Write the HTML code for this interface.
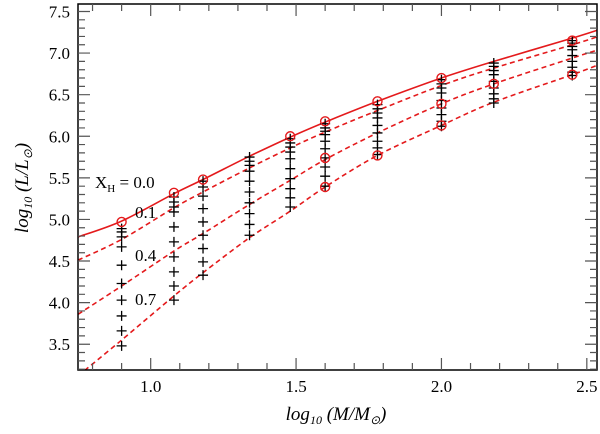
<!DOCTYPE html>
<html><head><meta charset="utf-8">
<style>
html,body{margin:0;padding:0;background:#fff;}
svg{display:block;font-family:"Liberation Serif",serif;}
</style></head>
<body>
<svg id="chart" width="600" height="434" viewBox="0 0 600 434"></svg>
<script>
const masses=[0.9,1.08,1.18,1.34,1.48,1.6,1.78,2.0,2.18,2.45];
const curveX=[0.75,0.9,1.08,1.18,1.34,1.48,1.6,1.78,2.0,2.18,2.45,2.54];
const curveX00=[4.79,4.98,5.31,5.48,5.76,5.99,6.17,6.42,6.70,6.90,7.18,7.28];
const curveX01=[4.51,4.76,5.14,5.33,5.62,5.86,6.05,6.31,6.61,6.82,7.10,7.20];
const curveX04=[3.86,4.20,4.62,4.83,5.18,5.47,5.72,6.04,6.39,6.63,6.94,7.04];
const curveX07=[3.12,3.55,4.08,4.36,4.78,5.10,5.39,5.77,6.13,6.41,6.74,6.86];
const circlesX00=[4.97,5.32,5.48,6.00,6.18,6.42,6.70,7.15];
const circlesX00M=[0.9,1.08,1.18,1.48,1.6,1.78,2.0,2.45];
const circlesX04=[5.74,6.39,6.63];
const circlesX04M=[1.6,2.0,2.18];
const circlesX07=[5.39,5.77,6.13,6.74];
const circlesX07M=[1.6,1.78,2.0,2.45];
const crosses=[
[4.89,4.85,4.79,4.67,4.45,4.23,4.03,3.84,3.66,3.48],
[5.27,5.21,5.15,5.09,4.91,4.73,4.55,4.37,4.20,4.03],
[5.46,5.39,5.28,5.13,4.97,4.81,4.65,4.49,4.33],
[5.75,5.70,5.65,5.58,5.46,5.33,5.20,5.07,4.94,4.81],
[5.97,5.92,5.87,5.81,5.73,5.61,5.49,5.37,5.26,5.15],
[6.15,6.10,6.06,6.02,5.94,5.85,5.74,5.63,5.52,5.40],
[6.38,6.33,6.28,6.22,6.13,6.04,5.94,5.86,5.78],
[6.68,6.63,6.58,6.52,6.43,6.34,6.26,6.18,6.12],
[6.88,6.84,6.79,6.74,6.66,6.58,6.51,6.45,6.40],
[7.15,7.12,7.08,7.04,6.97,6.90,6.83,6.77,6.73]
];
const xTicks=[1.0,1.5,2.0,2.5];
const yTicks=[3.5,4.0,4.5,5.0,5.5,6.0,6.5,7.0,7.5];

const L=78,R=597,T=4,B=370;
const xmin=0.75,xmax=2.535,ymin=3.19,ymax=7.59;
const sx=v=>L+(v-xmin)/(xmax-xmin)*(R-L);
const sy=v=>B-(v-ymin)/(ymax-ymin)*(B-T);
const svg=document.getElementById('chart');
const NS='http://www.w3.org/2000/svg';
function mk(tag,attrs,parent){const e=document.createElementNS(NS,tag);for(const k in attrs)e.setAttribute(k,attrs[k]);(parent||svg).appendChild(e);return e;}

const defs=mk('defs',{});
const cp=mk('clipPath',{id:'clip'},defs);
mk('rect',{x:L,y:T,width:R-L,height:B-T},cp);
const plot=mk('g',{'clip-path':'url(#clip)'});



function curve(vals,name,dash){
  const pts=curveX.map((m,i)=>[sx(m),sy(vals[i])]);
  let d='M'+pts[0][0].toFixed(1)+','+pts[0][1].toFixed(1);
  for(let i=0;i<pts.length-1;i++){
    const p0=pts[Math.max(0,i-1)],p1=pts[i],p2=pts[i+1],p3=pts[Math.min(pts.length-1,i+2)];
    const c1=[p1[0]+(p2[0]-p0[0])/6,p1[1]+(p2[1]-p0[1])/6];
    const c2=[p2[0]-(p3[0]-p1[0])/6,p2[1]-(p3[1]-p1[1])/6];
    d+=`C${c1[0].toFixed(1)},${c1[1].toFixed(1)} ${c2[0].toFixed(1)},${c2[1].toFixed(1)} ${p2[0].toFixed(1)},${p2[1].toFixed(1)}`;
  }
  const p=mk('path',{d:d,fill:'none',stroke:'#e41a1c','stroke-width':1.6},plot);
  if(dash)p.setAttribute('stroke-dasharray','5,3.5');
  
  
}
curve(curveX00,'line-xh-0.0',false);
curve(curveX01,'line-xh-0.1',true);
curve(curveX04,'line-xh-0.4',true);
curve(curveX07,'line-xh-0.7',true);

crosses.forEach((col,ci)=>{
  const g=mk('g',{stroke:'#000','stroke-width':1.3},plot);
  
  
  col.forEach(v=>{
    const x=sx(masses[ci]),y=sy(v);
    mk('path',{d:`M${x-5},${y}H${x+5}M${x},${y-5}V${y+5}`},g);
  });
});
function circles(ms,vs,name){
  ms.forEach((m,i)=>{
    const c=mk('circle',{cx:sx(m),cy:sy(vs[i]),r:4.5,fill:'none',stroke:'#e41a1c','stroke-width':1.4},plot);
    
    
  });
}
circles(circlesX00M,circlesX00,'circle-xh-0.0');
circles(circlesX04M,circlesX04,'circle-xh-0.4');
circles(circlesX07M,circlesX07,'circle-xh-0.7');

const fr=mk('rect',{x:L,y:T,width:R-L,height:B-T,fill:'none',stroke:'#000','stroke-width':1.5});


const tg=mk('g',{stroke:'#555','stroke-width':1.2});


for(let v=0.8;v<=2.5001;v+=0.1){
  const x=sx(v);const major=Math.abs(v*2-Math.round(v*2))<0.001;const len=major?12:7;
  mk('path',{d:`M${x},${B}V${B-len}M${x},${T}V${T+len}`},tg);
}
for(let v=3.2;v<=7.5001;v+=0.1){
  const y=sy(v);const major=Math.abs(v*2-Math.round(v*2))<0.001;const len=major?12:7;
  mk('path',{d:`M${L},${y}H${L+len}M${R},${y}H${R-len}`},tg);
}
xTicks.forEach(v=>{
  const t=mk('text',{x:sx(v),y:B+22,'text-anchor':'middle','font-size':17});
  t.textContent=v.toFixed(1);
  
  
});
yTicks.forEach(v=>{
  const t=mk('text',{x:L-8,y:sy(v)+6,'text-anchor':'end','font-size':17});
  t.textContent=v.toFixed(1);
  
  
});
</script>
<svg width="600" height="434" style="position:absolute;left:0;top:0;font-family:'Liberation Serif',serif">
<text x="95" y="188" font-size="17">X<tspan font-size="11" dy="4">H</tspan><tspan dy="-4"> = 0.0</tspan></text>
<text x="135" y="218" font-size="17">0.1</text>
<text x="135" y="261" font-size="17">0.4</text>
<text x="135" y="305" font-size="17">0.7</text>
<text x="336" y="420" font-size="19" font-style="italic" text-anchor="middle">log<tspan font-size="12" dy="4">10</tspan><tspan dy="-4"> (M/M</tspan><tspan font-size="12" dy="4">⊙</tspan><tspan dy="-4">)</tspan></text>
<text transform="translate(28,188) rotate(-90)" font-size="19" font-style="italic" text-anchor="middle">log<tspan font-size="12" dy="4">10</tspan><tspan dy="-4"> (L/L</tspan><tspan font-size="12" dy="4">⊙</tspan><tspan dy="-4">)</tspan></text>
</svg>
</body></html>
